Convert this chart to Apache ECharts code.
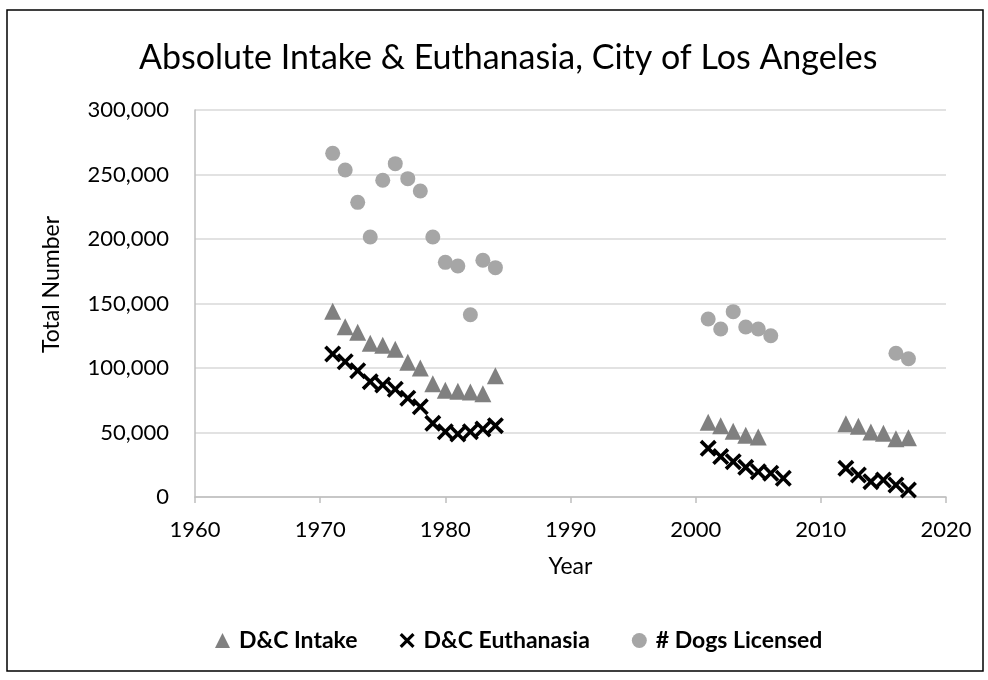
<!DOCTYPE html>
<html>
<head>
<meta charset="utf-8">
<script src="https://cdn.jsdelivr.net/npm/echarts@6/dist/echarts.min.js"></script>
<style>
  html, body { margin: 0; padding: 0; background: #fff; }
  #main { width: 988px; height: 680px; }
</style>
</head>
<body>
<div id="main"></div>
<script>
// values
const intakeYears = [1971, 1972, 1973, 1974, 1975, 1976, 1977, 1978, 1979, 1980, 1981, 1982, 1983, 1984,
  2001, 2002, 2003, 2004, 2005, 2012, 2013, 2014, 2015, 2016, 2017];
const intakeValues = [144000, 132000, 127700, 119100, 117600, 114500, 104400, 100000, 87800, 82700, 81900, 81400, 80100, 94000,
  57900, 55300, 50900, 47800, 46500, 56800, 54800, 50400, 49400, 45200, 46000];

const euthYears = [1971, 1972, 1973, 1974, 1975, 1976, 1977, 1978, 1979, 1980, 1981, 1982, 1983, 1984,
  2001, 2002, 2003, 2004, 2005, 2006, 2007, 2012, 2013, 2014, 2015, 2016, 2017];
const euthValues = [110800, 104900, 97900, 89400, 86800, 83500, 76500, 70000, 57100, 50600, 48800, 50600, 52700, 55300,
  37700, 31300, 27400, 23000, 19600, 18400, 14500, 22200, 17100, 11900, 13200, 9300, 5400];

const licensedYears = [1971, 1972, 1973, 1974, 1975, 1976, 1977, 1978, 1979, 1980, 1981, 1982, 1983, 1984,
  2001, 2002, 2003, 2004, 2005, 2006, 2016, 2017];
const licensedValues = [266400, 253500, 228400, 201600, 245500, 258400, 246800, 237200, 201600, 181900, 179100, 141300, 183500, 177800,
  138000, 130200, 143700, 131800, 130200, 125000, 111400, 107200];

const xTicks = [1960, 1970, 1980, 1990, 2000, 2010, 2020];
const yTicks = [0, 50000, 100000, 150000, 200000, 250000, 300000];

const pairs = (xs, ys) => xs.map((x, i) => [x, ys[i]]);

// filled X shape so it looks like the Excel cross marker
const crossPath = 'path://M0,1.5 L1.5,0 L5,3.5 L8.5,0 L10,1.5 L6.5,5 L10,8.5 L8.5,10 L5,6.5 L1.5,10 L0,8.5 L3.5,5 Z';

const font = 'Lato, "Open Sans", sans-serif';

const chart = echarts.init(document.getElementById('main'));
chart.setOption({
  animation: false,
  backgroundColor: '#fff',
  textStyle: { fontFamily: font },
  title: {
    text: 'Absolute Intake & Euthanasia, City of Los Angeles',
    left: 134,
    top: 36,
    textStyle: { fontFamily: font, fontSize: 34, fontWeight: 'normal', color: '#000' }
  },
  graphic: [{
    type: 'rect',
    shape: { x: 7, y: 10, width: 976, height: 661 },
    style: { fill: 'none', stroke: '#000', lineWidth: 1.5 },
    z: 100
  }],
  legend: {
    bottom: 23,
    left: 210,
    itemGap: 42,
    itemWidth: 15,
    itemHeight: 15,
    textStyle: { fontFamily: font, fontSize: 23, fontWeight: 'bold', color: '#000', padding: [0, 0, 0, 4] },
    data: [
      { name: 'D&C Intake', icon: 'triangle' },
      { name: 'D&C Euthanasia', icon: crossPath },
      { name: '# Dogs Licensed', icon: 'circle' }
    ]
  },
  grid: { left: 195, right: 42, top: 110, bottom: 183 },
  xAxis: {
    type: 'value',
    min: xTicks[0],
    max: xTicks[xTicks.length - 1],
    interval: 10,
    name: 'Year',
    nameLocation: 'middle',
    nameGap: 58,
    nameTextStyle: { fontFamily: font, fontSize: 23, color: '#000' },
    axisLine: { show: true, lineStyle: { color: '#bfbfbf', width: 1.5 } },
    axisTick: { show: true, length: 6, lineStyle: { color: '#bfbfbf', width: 1.5 } },
    axisLabel: { fontFamily: font, fontSize: 22, color: '#000', margin: 22, formatter: v => String(v) },
    splitLine: { show: false }
  },
  yAxis: {
    type: 'value',
    min: yTicks[0],
    max: yTicks[yTicks.length - 1],
    interval: 50000,
    name: 'Total Number',
    nameLocation: 'middle',
    nameGap: 132,
    nameTextStyle: { fontFamily: font, fontSize: 23, color: '#000', padding: [0, 0, 0, 38] },
    axisLine: { show: true, lineStyle: { color: '#bfbfbf', width: 1.5 } },
    axisTick: { show: false },
    axisLabel: {
      fontFamily: font, fontSize: 22, color: '#000', margin: 26,
      formatter: v => v.toLocaleString('en-US')
    },
    splitLine: { show: true, lineStyle: { color: '#d9d9d9', width: 1.5 } }
  },
  series: [
    {
      name: 'D&C Intake',
      type: 'scatter',
      symbol: 'triangle',
      symbolSize: 17,
      itemStyle: { color: '#808080', opacity: 1 },
      data: pairs(intakeYears, intakeValues)
    },
    {
      name: 'D&C Euthanasia',
      type: 'scatter',
      symbol: crossPath,
      symbolSize: 17,
      itemStyle: { color: '#000', opacity: 1 },
      data: pairs(euthYears, euthValues)
    },
    {
      name: '# Dogs Licensed',
      type: 'scatter',
      symbol: 'circle',
      symbolSize: 15,
      itemStyle: { color: '#a6a6a6', opacity: 1 },
      data: pairs(licensedYears, licensedValues)
    }
  ]
});
</script>
</body>
</html>
